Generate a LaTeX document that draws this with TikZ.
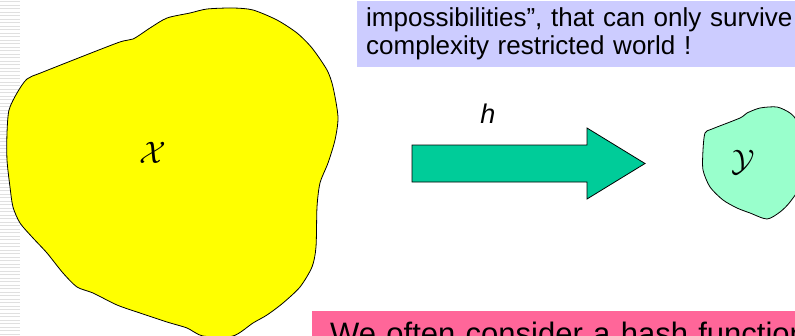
\documentclass[tikz,border=0pt]{standalone}
\usepackage{fontspec}
\setmainfont{Liberation Sans}
\usepackage{xcolor}
\usetikzlibrary{positioning}

\definecolor{blobyellow}{HTML}{FFFF00}
\definecolor{blobgreen}{HTML}{99FFCC}
\definecolor{arrowgreen}{HTML}{00CC99}
\definecolor{noteblue}{HTML}{CCCCFF}
\definecolor{notepink}{HTML}{FF6699}

\begin{document}
\begin{tikzpicture}[
    x=1pt, y=-1pt,
    stripe/.style={draw=black!12, line width=0.7pt},
    blob/.style={draw=black, line width=0.8pt},
    bigarrow/.style={draw=black, line width=0.8pt, fill=arrowgreen},
    note/.style={rectangle, align=left, anchor=north west, inner sep=0pt, font=\fontsize{26}{28}\selectfont},
    setlabel/.style={font=\fontsize{24}{24}\selectfont, scale=1.25}
]
\clip (0,0) rectangle (795,335);
\fill[white] (0,0) rectangle (795,335);

% striped margin
\foreach \i in {0,...,95}
    \draw[stripe] (0,{3.5*\i+1.5}) -- (20,{3.5*\i+1.5});

% domain and range
\draw[blob, fill=blobyellow] plot[smooth cycle, tension=0.45] coordinates {
    (27,79) (43,72) (117,43) (133,39) (150,28) (167,18) (190,13) (207,9)
    (233,8) (253,10) (277,20) (297,33) (312,48) (327,70) (333,87) (338,117)
    (335,140) (328,163) (320,183) (317,207) (316,247) (312,267) (300,287)
    (283,303) (267,315) (253,323) (233,336) (203,336) (187,328) (167,322)
    (140,313) (117,305) (93,293) (77,287) (63,273) (47,253) (33,238)
    (20,223) (13,207) (10,187) (7,160) (7,133) (9,110) (17,93)};
\draw[blob, fill=blobgreen] plot[smooth cycle, tension=0.45] coordinates {
    (703,150) (705,133) (712,129) (740,118) (747,113) (760,108) (777,107)
    (790,113) (797,122) (802,150) (800,185) (790,202) (780,212) (767,219)
    (750,213) (737,208) (723,200) (710,187) (703,170)};

\node (setx) [setlabel] at (153,153) {$\mathcal{X}$};
\node (sety) [setlabel] at (743,162) {$\mathcal{Y}$};

% the hash map
\draw[bigarrow] (412,145) -- (587,145) -- (587,128) -- (645,163.5)
    -- (587,199) -- (587,182) -- (412,182) -- cycle;
\node (hlabel) [font=\fontsize{27}{27}\selectfont\itshape] at (488,114) {h};

% notes
\node (upper) [note, fill=noteblue, anchor=south west, inner xsep=9pt, inner ysep=7pt,
    text width=480pt] at (357,67)
    {impossibilities”, that can only survive\\complexity restricted world !};
\node (lower) [note, fill=notepink, inner xsep=18pt, inner ysep=11pt, text width=500pt,
    font=\fontsize{31}{33}\selectfont] at (312,311)
    {We often consider a hash function};

\end{tikzpicture}
\end{document}
